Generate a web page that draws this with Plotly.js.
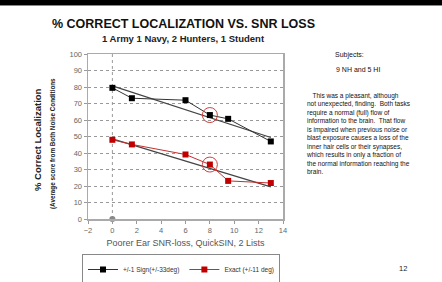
<!DOCTYPE html>
<html><head><meta charset="utf-8">
<script src="https://cdn.plot.ly/plotly-3.0.1.min.js"></script>
<style>html,body{margin:0;padding:0;background:#fff}#chart{width:442px;height:282px}</style>
</head><body><div id="chart"></div>
<script>
// Data
const snrLoss = [0, 1.6, 6, 8, 9.5, 13];
const signScores = [79.5, 73.2, 72, 63, 60.7, 47];
const exactScores = [48, 45.2, 39.1, 33, 23.1, 21.8];
const trendX = [0, 13];
const signTrend = [80.7, 49.4];
const exactTrend = [48.6, 19.5];
const highlightX = [8, 8];
const highlightY = [63, 33];
const originX = [0];
const originY = [0];
const xTicks = [-2, 0, 2, 4, 6, 8, 10, 12, 14];
const yTicks = [0, 10, 20, 30, 40, 50, 60, 70, 80, 90, 100];
const seriesNames = ["+/-1 Sign(+/-33deg)", "Exact (+/-11 deg)"];
const noteLines = [
  "   This was a pleasant, although",
  "not unexpected, finding.  Both tasks",
  "require a normal (full) flow of",
  "information to the brain.  That flow",
  "is impaired when previous noise or",
  "blast exposure causes a loss of the",
  "inner hair cells or their synapses,",
  "which results in only a fraction of",
  "the normal information reaching the",
  "brain."
];

// pixel -> paper helpers (plot area: x 88..283, y 54..219)
const L = 88, R = 283, T = 54, B = 219;
const px = p => (p - L) / (R - L);
const py = p => (B - p) / (B - T);
const FONT = "Liberation Sans, Arial, sans-serif";

const traces = [
  {x: trendX, y: signTrend, mode: "lines", line: {color: "#444", width: 1.2}, showlegend: false, hoverinfo: "skip"},
  {x: trendX, y: exactTrend, mode: "lines", line: {color: "#444", width: 1.2}, showlegend: false, hoverinfo: "skip"},
  {x: snrLoss, y: signScores, name: seriesNames[0], mode: "lines+markers",
   line: {color: "#333", width: 1}, marker: {symbol: "square", size: 6, color: "#000"}},
  {x: snrLoss, y: exactScores, name: seriesNames[1], mode: "lines+markers",
   line: {color: "#c03030", width: 1}, marker: {symbol: "square", size: 6, color: "#c00000"}},
  {x: highlightX, y: highlightY, mode: "markers", showlegend: false, hoverinfo: "skip",
   marker: {symbol: "circle-open", size: 15, color: "#d04040", line: {width: 1, color: "#d04040"}}},
  {x: originX, y: originY, mode: "markers", showlegend: false, hoverinfo: "skip", cliponaxis: false,
   marker: {symbol: "circle", size: 6, color: "#888"}}
];

const noteText = noteLines.map(t => t.replace(/^ +/, m => "&nbsp;".repeat(m.length))).join("<br>");

const annotations = [
  {text: "<b>% CORRECT LOCALIZATION VS. SNR LOSS</b>", x: px(183), y: py(24), font: {size: 12.5, color: "#111"}},
  {text: "<b>1 Army 1 Navy, 2 Hunters, 1 Student</b>", x: px(183), y: py(38), font: {size: 9.5, color: "#222"}},
  {text: "<b>% Correct Localization</b>", x: px(37), y: py(140), textangle: -90, font: {size: 9.5, color: "#222"}},
  {text: "<b>(Average score from Both Noise Conditions</b>", x: px(53), y: py(144), textangle: -90, font: {size: 6.3, color: "#222"}},
  {text: "Subjects:", x: px(333), y: py(55), xanchor: "left", font: {size: 7, color: "#111"}},
  {text: "9 NH and 5 HI", x: px(334), y: py(69), xanchor: "left", font: {size: 7, color: "#111"}},
  {text: "12", x: px(403), y: py(268), font: {size: 7.5, color: "#222"}},
  {text: noteText, x: px(304), y: py(133), xanchor: "left", align: "left", font: {size: 6.5, color: "#111"}}
];
annotations.forEach(a => {
  a.xref = "paper"; a.yref = "paper"; a.showarrow = false;
  if (!a.xanchor) a.xanchor = "center";
  a.yanchor = "middle";
  a.font.family = FONT;
});

const layout = {
  width: 442, height: 282,
  margin: {l: L, r: 442 - R, t: T, b: 282 - B, autoexpand: false},
  paper_bgcolor: "#fff", plot_bgcolor: "#fff",
  font: {family: FONT, color: "#555"},
  xaxis: {range: [-2, 14], tickvals: xTicks, showgrid: false, zeroline: false, automargin: false,
    showline: true, mirror: true, linecolor: "#aaa", linewidth: 1.5,
    ticks: "outside", ticklen: 3, tickcolor: "#999", tickfont: {size: 7.5, color: "#666"},
    title: {text: "Poorer Ear SNR-loss, QuickSIN, 2 Lists", font: {size: 9, color: "#555"}, standoff: 6}},
  yaxis: {range: [0, 100], tickvals: yTicks, showgrid: true, gridcolor: "#999", griddash: "dot", gridwidth: 1,
    zeroline: false, automargin: false, showline: true, mirror: true, linecolor: "#aaa", linewidth: 1.5,
    ticks: "outside", ticklen: 3, tickcolor: "#999", tickfont: {size: 7.5, color: "#666"}},
  showlegend: true,
  legend: {orientation: "h", x: px(82), y: py(269.5), xanchor: "left", yanchor: "middle",
    bordercolor: "#888", borderwidth: 1, bgcolor: "#fff", font: {size: 6.5, color: "#333"},
    itemwidth: 30, tracegroupgap: 0},
  shapes: [
    {type: "line", xref: "x", yref: "y", x0: 0, x1: 0, y0: 0, y1: 100, line: {color: "#999", width: 1, dash: "dot"}, layer: "below"},
    {type: "rect", xref: "paper", yref: "paper", x0: px(0), x1: px(442), y0: py(5), y1: py(-2), fillcolor: "#000", line: {width: 0}},
    {type: "line", xref: "paper", yref: "paper", x0: px(0), x1: px(442), y0: py(5.5), y1: py(5.5), line: {color: "#888", width: 1}}
  ],
  annotations: annotations
};

Plotly.newPlot("chart", traces, layout, {displayModeBar: false, staticPlot: true});
</script></body></html>
